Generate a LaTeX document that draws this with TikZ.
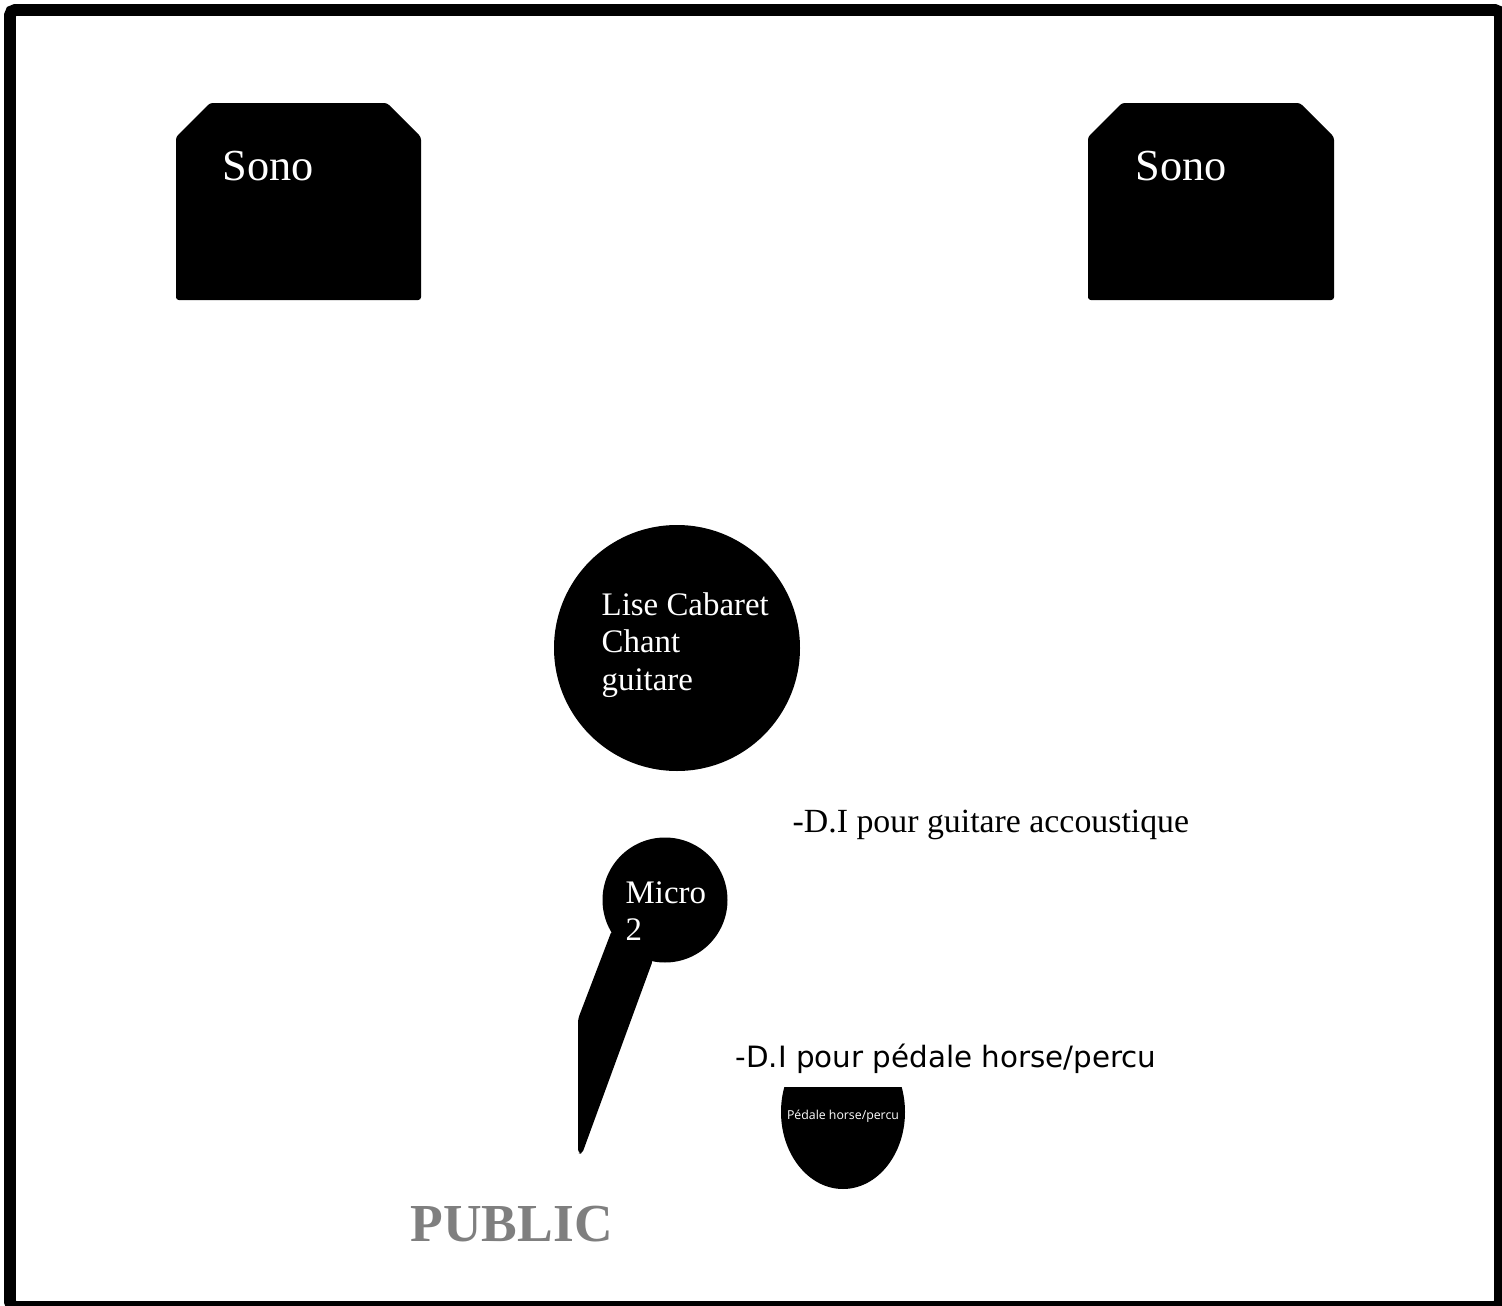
\documentclass[tikz,border=0pt]{standalone}
\usepackage{fontspec}
\setmainfont{Liberation Serif}
\newfontfamily\dvs{DejaVu Sans}
\newfontfamily\osans{Open Sans}
\begin{document}
\begin{tikzpicture}[x=0.01cm,y=-0.01cm,
  blk/.style={fill=black,draw=none},
  wlabel/.style={text=white,inner sep=0pt,anchor=base west},
  blabel/.style={text=black,inner sep=0pt,anchor=base west},
  sono/.style={wlabel,font=\fontsize{12.6pt}{15pt}\selectfont},
  chant/.style={wlabel,font=\fontsize{9.35pt}{11pt}\selectfont}]
\useasboundingbox (0,0) rectangle (1502,1306);
\fill[white] (0,0) rectangle (1502,1306);
% frame
\draw[line width=3.4pt,rounded corners=1.5pt] (10,10) rectangle (1500,1307);
% speakers
\fill[blk,rounded corners=0.8pt] (176,300) -- (176,137) -- (210,103) -- (387,103) -- (421,137) -- (421,300) -- cycle;
\node[sono] (sonoL) at (222,180) {Sono};
\fill[blk,rounded corners=0.8pt] (1088,300) -- (1088,137) -- (1122,103) -- (1300,103) -- (1334,137) -- (1334,300) -- cycle;
\node[sono] (sonoR) at (1135,180) {Sono};
% singer
\fill[blk] (677,648) circle[radius=123];
\node[chant] (l1) at (601,615) {Lise Cabaret};
\node[chant] (l2) at (601,652) {Chant};
\node[chant] (l3) at (601,690) {guitare};
% micro
\fill[blk] (665,900) circle[radius=62.5];
\fill[blk,rounded corners=1pt] (612,930) -- (578,1019) -- (578,1153) -- (582,1154) -- (653,960) -- cycle;
\node[chant] (m1) at (625,903) {Micro};
\node[chant] (m2) at (625,940) {2};
% DI texts
\node[blabel,font=\fontsize{9.62pt}{11pt}\selectfont] (di1) at (792,832) {-D.I pour guitare accoustique};
\node[blabel,font=\dvs\fontsize{8.35pt}{10pt}\selectfont] (di2) at (735,1067) {-D.I pour pédale horse/percu};
% pedal
\begin{scope}
\clip (700,1087) rectangle (1000,1250);
\fill[blk] (843,1112) ellipse[x radius=62,y radius=77];
\end{scope}
\node[text=white,inner sep=0pt,anchor=base,font=\osans\fontsize{3.5pt}{4.5pt}\selectfont] (ped) at (843,1119) {Pédale horse/percu};
% public
\node[blabel,text={rgb,255:red,127;green,127;blue,127},font=\bfseries\fontsize{15.2pt}{18pt}\selectfont] (pub) at (410,1241) {PUBLIC};
\end{tikzpicture}
\end{document}
